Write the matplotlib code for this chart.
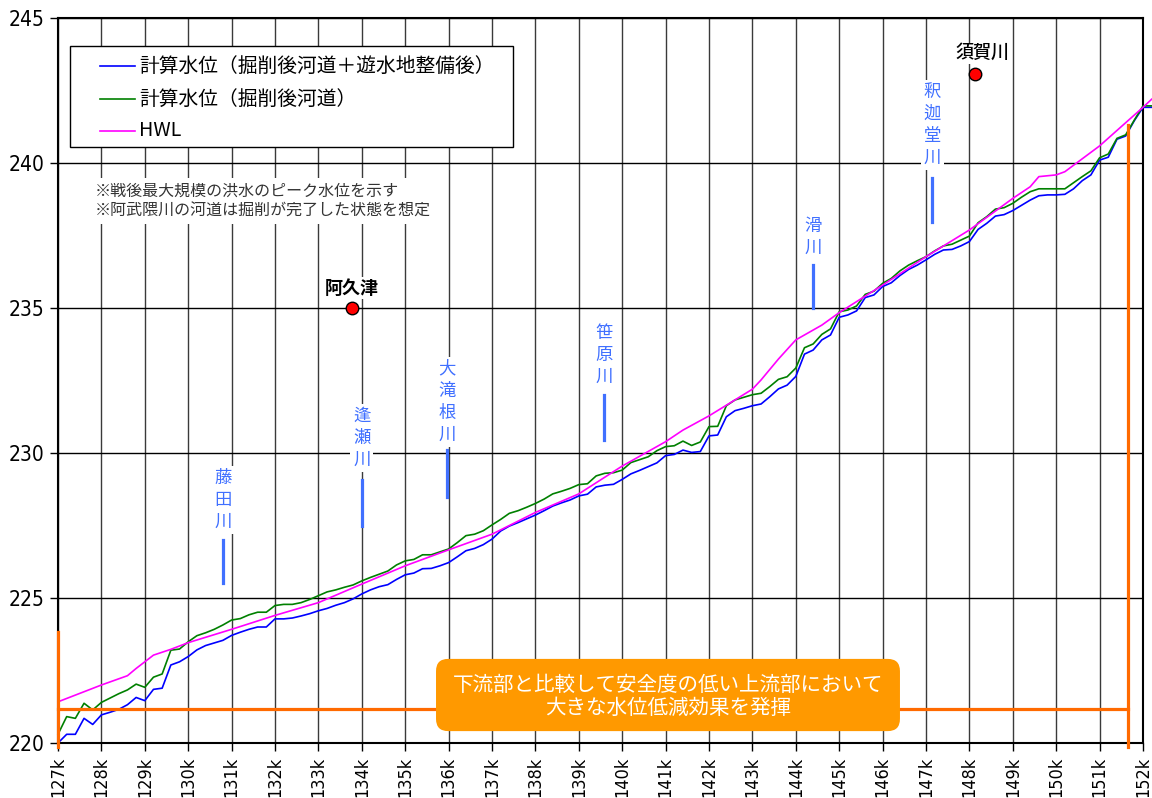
import numpy as np
import matplotlib
matplotlib.use('Agg')
import matplotlib.pyplot as plt
from matplotlib.patches import FancyBboxPatch, Rectangle
from matplotlib import font_manager

# stations every 0.2 km, 127.0k .. 152.2k
km = np.round(np.arange(127.0, 152.21, 0.2), 1)

# 計算水位(掘削後河道＋遊水地整備後)
wl_after_basin = [
    220.00, 220.30, 220.30, 220.85, 220.64,  # 127
    220.97, 221.06, 221.16, 221.32, 221.57,  # 128
    221.46, 221.85, 221.89, 222.69, 222.80,  # 129
    222.98, 223.21, 223.36, 223.45, 223.54,  # 130
    223.71, 223.82, 223.92, 224.00, 224.00,  # 131
    224.28, 224.28, 224.31, 224.38, 224.46,  # 132
    224.56, 224.64, 224.75, 224.84, 224.97,  # 133
    225.14, 225.28, 225.39, 225.46, 225.64,  # 134
    225.80, 225.86, 226.01, 226.02, 226.11,  # 135
    226.22, 226.42, 226.63, 226.71, 226.84,  # 136
    227.03, 227.31, 227.48, 227.60, 227.73,  # 137
    227.86, 228.01, 228.17, 228.28, 228.38,  # 138
    228.52, 228.58, 228.83, 228.89, 228.92,  # 139
    229.09, 229.28, 229.40, 229.53, 229.66,  # 140
    229.91, 229.95, 230.10, 230.02, 230.05,  # 141
    230.59, 230.62, 231.25, 231.46, 231.54,  # 142
    231.63, 231.69, 231.94, 232.21, 232.34,  # 143
    232.64, 233.41, 233.55, 233.90, 234.07,  # 144
    234.68, 234.76, 234.90, 235.36, 235.45,  # 145
    235.74, 235.87, 236.12, 236.33, 236.48,  # 146
    236.66, 236.85, 237.00, 237.02, 237.14,  # 147
    237.29, 237.71, 237.92, 238.17, 238.22,  # 148
    238.36, 238.54, 238.72, 238.87, 238.90,  # 149
    238.90, 238.92, 239.11, 239.39, 239.59,  # 150
    240.10, 240.20, 240.82, 240.93, 241.46,  # 151
    241.92, 241.92,                          # 152
]

# 計算水位(掘削後河道)
wl_after_dredge = [
    220.30, 220.91, 220.85, 221.37, 221.14,  # 127
    221.40, 221.55, 221.70, 221.83, 222.03,  # 128
    221.92, 222.27, 222.38, 223.20, 223.24,  # 129
    223.49, 223.70, 223.80, 223.92, 224.07,  # 130
    224.24, 224.29, 224.42, 224.51, 224.51,  # 131
    224.74, 224.78, 224.78, 224.84, 224.95,  # 132
    225.08, 225.21, 225.28, 225.37, 225.45,  # 133
    225.59, 225.71, 225.82, 225.93, 226.14,  # 134
    226.28, 226.33, 226.49, 226.49, 226.59,  # 135
    226.69, 226.91, 227.15, 227.20, 227.32,  # 136
    227.52, 227.71, 227.92, 228.01, 228.13,  # 137
    228.26, 228.41, 228.59, 228.68, 228.78,  # 138
    228.91, 228.94, 229.21, 229.30, 229.32,  # 139
    229.41, 229.67, 229.77, 229.87, 230.08,  # 140
    230.22, 230.25, 230.41, 230.26, 230.38,  # 141
    230.91, 230.92, 231.63, 231.83, 231.92,  # 142
    232.01, 232.06, 232.29, 232.54, 232.63,  # 143
    232.93, 233.63, 233.76, 234.09, 234.28,  # 144
    234.87, 234.93, 235.07, 235.47, 235.58,  # 145
    235.85, 236.02, 236.28, 236.48, 236.63,  # 146
    236.77, 236.97, 237.14, 237.20, 237.34,  # 147
    237.48, 237.94, 238.15, 238.41, 238.46,  # 148
    238.61, 238.82, 239.01, 239.11, 239.11,  # 149
    239.11, 239.11, 239.32, 239.53, 239.73,  # 150
    240.18, 240.31, 240.85, 240.97, 241.48,  # 151
    241.97, 241.97,                          # 152
]

# HWL
hwl_km = [127.0, 128.0, 128.6, 128.8, 129.0, 129.2, 129.6, 130.0, 131.0, 132.0,
          133.0, 134.0, 135.0, 136.0, 137.0, 138.0, 139.0, 140.0, 141.0, 141.4,
          142.0, 143.0, 143.2, 143.6, 144.0, 144.6, 145.0, 146.0, 147.0, 148.0,
          149.0, 149.4, 149.6, 150.0, 150.2, 151.0, 152.0, 152.2]
hwl = [221.42, 222.00, 222.32, 222.57, 222.80, 223.03, 223.23, 223.46, 223.92, 224.40,
       224.84, 225.48, 226.11, 226.66, 227.20, 227.95, 228.59, 229.55, 230.39, 230.79,
       231.28, 232.20, 232.52, 233.24, 233.90, 234.41, 234.84, 235.79, 236.77, 237.69,
       238.78, 239.18, 239.53, 239.59, 239.70, 240.59, 241.92, 242.20]

labels = ['計算水位（掘削後河道＋遊水地整備後）', '計算水位（掘削後河道）', 'HWL']

# gauging stations
stations = ['阿久津', '須賀川']
station_km = [133.77, 148.13]
station_wl = [235.0, 243.07]

# tributaries: name, km, label centre, marker line top / bottom
tribs = ['藤田川', '逢瀬川', '大滝根川', '笹原川', '滑川', '釈迦堂川']
trib_km = [130.8, 134.0, 135.96, 139.58, 144.4, 147.14]
trib_label_y = [228.38, 230.52, 231.76, 233.38, 237.45, 241.31]
trib_top = [227.0, 229.07, 230.10, 232.0, 236.48, 239.48]
trib_bot = [225.52, 227.48, 228.48, 230.45, 235.0, 237.97]

jp = 'Noto Sans CJK JP'
names = {f.name for f in font_manager.fontManager.ttflist}
num_font = 'Liberation Sans Narrow' if 'Liberation Sans Narrow' in names else 'DejaVu Sans'
plt.rcParams['font.family'] = [jp, 'DejaVu Sans']

blue_c = '#4070ff'
orange = '#ff6a00'
colors = ['#0000ff', '#008000', '#ff00ff']

fig = plt.figure(figsize=(11.52, 7.98), dpi=100)
ax = fig.add_axes([58 / 1152, 1 - 743 / 798, 1085 / 1152, 725 / 798])

ax.plot(km, wl_after_basin, color=colors[0], lw=1.2, zorder=3, clip_on=False)
ax.plot(km, wl_after_dredge, color=colors[1], lw=1.2, zorder=3, clip_on=False)
ax.plot(hwl_km, hwl, color=colors[2], lw=1.2, zorder=3, clip_on=False)

ax.set_xlim(127, 152)
ax.set_ylim(220, 245)
ax.set_xticks(range(127, 153))
ax.set_xticklabels([f'{k}k' for k in range(127, 153)], rotation=90,
                   family=[num_font, 'DejaVu Sans'], fontstretch='condensed', fontsize=13)
ax.set_yticks(range(220, 246, 5))
ax.set_yticklabels([str(v) for v in range(220, 246, 5)],
                   family=[num_font, 'DejaVu Sans'], fontstretch='condensed', fontsize=15)
ax.tick_params(direction='out', length=6, width=1, pad=4)
ax.set_axisbelow(True)
ax.grid(axis='x', color='#3a3a3a', lw=1.0)
ax.grid(axis='y', color='black', lw=1.0)
for s in ax.spines.values():
    s.set_linewidth(1.5)

# legend box drawn by hand (axes fraction coords)
def fx(px):
    return (px - 58) / 1085

def fy(py):
    return (743 - py) / 725

ax.add_patch(Rectangle((fx(70), fy(147)), fx(513) - fx(70), fy(46) - fy(147),
                       transform=ax.transAxes, fc='white', ec='black', lw=1.0, zorder=8))
for i, (lab, c) in enumerate(zip(labels, colors)):
    ry = fy([66, 99, 131][i])
    ax.plot([fx(100), fx(135)], [ry, ry], color=c, lw=1.2, transform=ax.transAxes, zorder=9)
    ax.text(fx(139), ry, lab, transform=ax.transAxes, ha='left', va='center',
            fontsize=14.2, zorder=9)

ax.text(127.85, 238.69, '※戦後最大規模の洪水のピーク水位を示す\n※阿武隈川の河道は掘削が完了した状態を想定',
        ha='left', va='center', fontsize=11.5, color='#333333', linespacing=1.25,
        bbox=dict(fc='white', ec='none', pad=3), zorder=4)

# stations
ax.plot(station_km, station_wl, 'o', ms=9, mfc='red', mec='black', mew=1, zorder=6)
ax.text(133.77, 235.69, stations[0], ha='center', va='center', fontsize=13,
        fontweight='bold', bbox=dict(fc='white', ec='none', pad=1), zorder=5)
ax.text(148.29, 243.79, stations[1], ha='center', va='center', fontsize=13,
        fontweight='medium', bbox=dict(fc='white', ec='none', pad=1), zorder=5)

# tributaries
for name, x, ty, y0, y1 in zip(tribs, trib_km, trib_label_y, trib_top, trib_bot):
    ax.text(x, ty, '\n'.join(name), ha='center', va='center', color=blue_c,
            fontsize=12.5, linespacing=1.3, bbox=dict(fc='white', ec='none', pad=2), zorder=4)
    ax.plot([x, x], [y0, y1], color=blue_c, lw=2.3, zorder=4)

# orange guide lines
ax.plot([127, 151.65], [221.17, 221.17], color=orange, lw=2.3, zorder=5, clip_on=False)
ax.plot([127, 127], [223.83, 219.85], color=orange, lw=2.3, zorder=5, clip_on=False)
ax.plot([151.65, 151.65], [241.31, 219.85], color=orange, lw=2.3, zorder=5, clip_on=False)

box = FancyBboxPatch((135.71, 220.41), 10.69, 2.49,
                     boxstyle='round,pad=0,rounding_size=0.28', mutation_aspect=1.5,
                     fc='#ff9900', ec='none', zorder=6)
ax.add_patch(box)
ax.text(141.06, 221.99, '下流部と比較して安全度の低い上流部において', ha='center', va='center',
        color='white', fontsize=14.8, zorder=7)
ax.text(141.06, 221.22, '大きな水位低減効果を発揮', ha='center', va='center',
        color='white', fontsize=14.8, zorder=7)

fig.savefig('out.png', dpi=100)
